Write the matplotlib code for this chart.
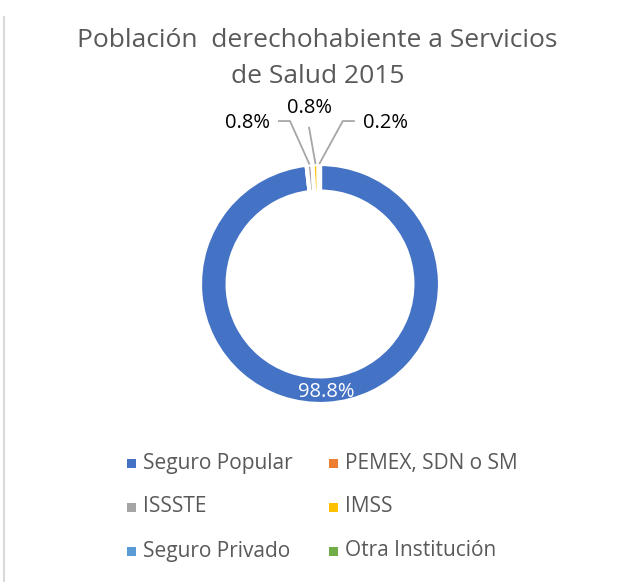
import matplotlib
matplotlib.use("Agg")
import matplotlib.pyplot as plt
import numpy as np
from matplotlib.lines import Line2D
from matplotlib.patches import Rectangle

# data
categories = ['Seguro Popular', 'PEMEX, SDN o SM', 'ISSSTE', 'IMSS',
              'Seguro Privado', 'Otra Institución']
values = [98.8, 0.0, 0.8, 0.8, 0.2, 0.0]
colors = ['#4472C4', '#ED7D31', '#A5A5A5', '#FFC000', '#5B9BD5', '#70AD47']

TEXT = '#595959'
plt.rcParams['font.family'] = ['Open Sans', 'DejaVu Sans']

W, H = 621, 582
fig = plt.figure(figsize=(W / 100, H / 100), dpi=100)

# donut centre and radius in pixels
cx, cy, R = 320, 284, 120
ax = fig.add_axes([(cx - R) / W, (H - cy - R) / H, 2 * R / W, 2 * R / H])

wedges, _ = ax.pie(values, colors=colors, startangle=90, counterclock=False,
                   radius=1.0, normalize=True,
                   wedgeprops=dict(width=0.23, edgecolor='white', linewidth=3.0))
ax.set_xlim(-1, 1)
ax.set_ylim(-1, 1)
ax.set_aspect('equal')
ax.axis('off')

# main slice label inside ring
w0 = wedges[0]
mid = np.deg2rad((w0.theta1 + w0.theta2) / 2)
ax.text(0.9 * np.cos(mid), 0.9 * np.sin(mid), f'{values[0]:.1f}%',
        color='white', fontsize=14.5, ha='center', va='center')

# small slices: text position, elbow points of the leader line
label_pos = {
    2: ((-0.605, 1.34), [(-0.35, 1.358), (-0.25, 1.358)]),
    3: ((-0.088, 1.465), [(-0.092, 1.31)]),
    4: ((0.545, 1.34), [(0.29, 1.358), (0.19, 1.358)]),
}
for i, ((tx, ty), elbow) in label_pos.items():
    w = wedges[i]
    a = np.deg2rad((w.theta1 + w.theta2) / 2)
    ax.text(tx, ty, f'{values[i]:.1f}%', fontsize=14.5, color='black',
            ha='center', va='center', clip_on=False)
    pts = elbow + [(1.0 * np.cos(a), 1.0 * np.sin(a))]
    xs, ys = zip(*pts)
    ax.plot(xs, ys, color='#A6A6A6', lw=1.3, clip_on=False,
            solid_capstyle='butt')

# title
fig.text(317 / W, 1 - 47 / H, 'Población  derechohabiente a Servicios',
         ha='center', va='baseline', fontsize=19, color=TEXT)
fig.text(318 / W, 1 - 83 / H, 'de Salud 2015',
         ha='center', va='baseline', fontsize=19, color=TEXT)

# legend, two columns filled row by row
for i, (name, c) in enumerate(zip(categories, colors)):
    row, col = divmod(i, 2)
    x0 = 127 + col * 202
    yc = 463 + row * 44
    fig.add_artist(Rectangle((x0 / W, 1 - (yc + 4.5) / H), 9 / W, 9 / H,
                             facecolor=c, edgecolor='none',
                             transform=fig.transFigure))
    fig.text((x0 + 16) / W, 1 - yc / H, name, ha='left', va='center',
             fontsize=15, color=TEXT)

# chart border on the left
fig.add_artist(Line2D([4 / W, 4 / W], [0, 1 - 17 / H], color='#D9D9D9',
                      lw=1.5, transform=fig.transFigure))

fig.savefig('out.png', dpi=100, facecolor='white')
